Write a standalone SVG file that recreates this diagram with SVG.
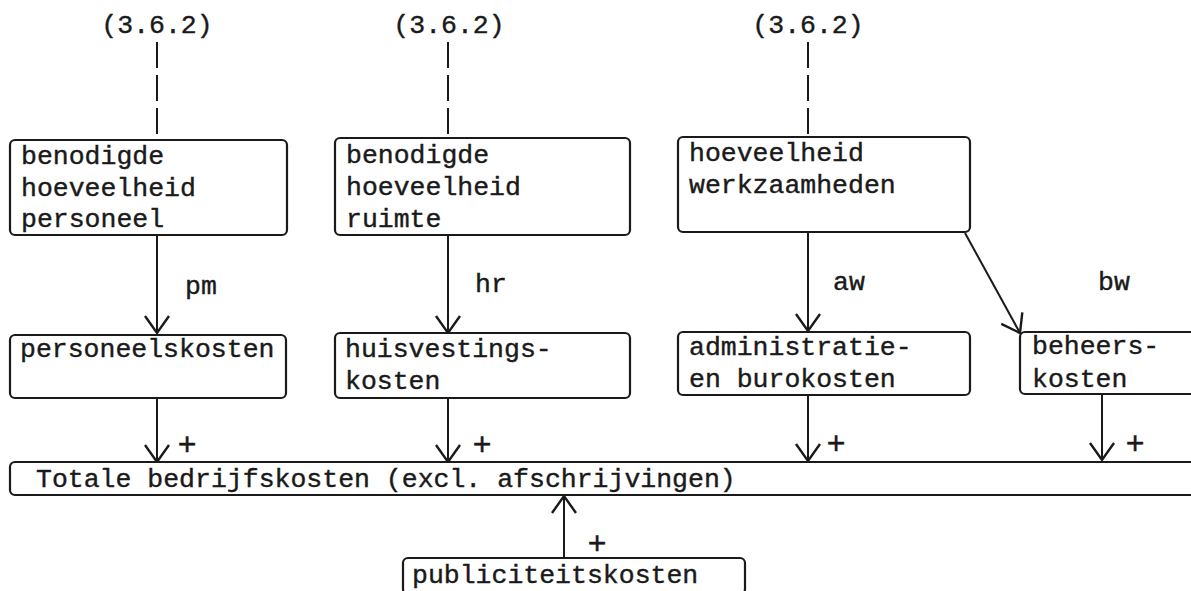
<svg xmlns="http://www.w3.org/2000/svg" width="1191" height="591" viewBox="0 0 1191 591">
<style>
  .box { fill: #ffffff; stroke: #1a1a1a; stroke-width: 2.2; }
  .t { font-family: "Liberation Mono", "Courier New", monospace; font-size: 26.5px; fill: #1a1a1a; stroke: #1a1a1a; stroke-width: 0.4; }
  .lbl { font-family: "Liberation Mono", "Courier New", monospace; font-size: 26.5px; fill: #1a1a1a; stroke: #1a1a1a; stroke-width: 0.4; }
  .plus { font-family: "Liberation Mono", "Courier New", monospace; font-size: 32px; fill: #1a1a1a; stroke: #1a1a1a; stroke-width: 0.4; }
  .ln { fill: none; stroke: #1a1a1a; stroke-width: 2; }
  .dash { fill: none; stroke: #1a1a1a; stroke-width: 2; stroke-dasharray: 26 7; }
</style>
<defs>
  <marker id="arr" markerUnits="userSpaceOnUse" markerWidth="40" markerHeight="40" viewBox="-20 -20 40 40" refX="0" refY="0" orient="auto" overflow="visible">
    <path d="M-17,-12 L0,0 L-17,12" fill="none" stroke="#1a1a1a" stroke-width="2.4"/>
  </marker>
</defs>
<rect width="1191" height="591" fill="#ffffff"/>

<g id="ref1"><text class="lbl" x="157" y="33" text-anchor="middle">(3.6.2)</text></g>
<g id="ref2"><text class="lbl" x="449" y="33" text-anchor="middle">(3.6.2)</text></g>
<g id="ref3"><text class="lbl" x="808" y="33" text-anchor="middle">(3.6.2)</text></g>

<g id="connectors">
  <line class="dash" x1="157" y1="42" x2="157" y2="140"/>
  <line class="dash" x1="448" y1="42" x2="448" y2="138"/>
  <line class="dash" x1="808" y1="42" x2="808" y2="137"/>

  <line class="ln" x1="157" y1="235" x2="157" y2="333" marker-end="url(#arr)"/>
  <line class="ln" x1="448" y1="235" x2="448" y2="333" marker-end="url(#arr)"/>
  <line class="ln" x1="808" y1="232" x2="808" y2="331" marker-end="url(#arr)"/>
  <line class="ln" x1="965" y1="233" x2="1020" y2="333" marker-end="url(#arr)"/>

  <line class="ln" x1="157" y1="398" x2="157" y2="462" marker-end="url(#arr)"/>
  <line class="ln" x1="448" y1="398" x2="448" y2="462" marker-end="url(#arr)"/>
  <line class="ln" x1="808" y1="395" x2="808" y2="461" marker-end="url(#arr)"/>
  <line class="ln" x1="1102" y1="394" x2="1102" y2="460" marker-end="url(#arr)"/>

  <line class="ln" x1="564" y1="558" x2="564" y2="496" marker-end="url(#arr)"/>

  <text class="lbl" x="185" y="294">pm</text>
  <text class="lbl" x="475" y="292">hr</text>
  <text class="lbl" x="833" y="290">aw</text>
  <text class="lbl" x="1098" y="290">bw</text>

  <text class="plus" x="187" y="455" text-anchor="middle">+</text>
  <text class="plus" x="482" y="455" text-anchor="middle">+</text>
  <text class="plus" x="836" y="454" text-anchor="middle">+</text>
  <text class="plus" x="1135" y="454" text-anchor="middle">+</text>
  <text class="plus" x="597" y="554" text-anchor="middle">+</text>
</g>

<g id="personeel">
  <rect class="box" x="10" y="140" width="277" height="95" rx="5"/>
  <text class="t" x="21" y="164">benodigde</text>
  <text class="t" x="21" y="196">hoeveelheid</text>
  <text class="t" x="21" y="227">personeel</text>
</g>
<g id="ruimte">
  <rect class="box" x="335" y="138" width="295" height="97" rx="5"/>
  <text class="t" x="346" y="163">benodigde</text>
  <text class="t" x="346" y="195">hoeveelheid</text>
  <text class="t" x="346" y="227">ruimte</text>
</g>
<g id="werkzaamheden">
  <rect class="box" x="678" y="137" width="292" height="95" rx="5"/>
  <text class="t" x="689" y="161">hoeveelheid</text>
  <text class="t" x="689" y="193">werkzaamheden</text>
</g>

<g id="personeelskosten">
  <rect class="box" x="10" y="335" width="276" height="63" rx="5"/>
  <text class="t" x="20" y="357">personeelskosten</text>
</g>
<g id="huisvestingskosten">
  <rect class="box" x="335" y="333" width="295" height="65" rx="5"/>
  <text class="t" x="345" y="357">huisvestings-</text>
  <text class="t" x="345" y="389">kosten</text>
</g>
<g id="administratiekosten">
  <rect class="box" x="678" y="332" width="292" height="63" rx="5"/>
  <text class="t" x="689" y="355">administratie-</text>
  <text class="t" x="689" y="387">en burokosten</text>
</g>
<g id="beheerskosten">
  <rect class="box" x="1020" y="332" width="200" height="62" rx="5"/>
  <text class="t" x="1032" y="354">beheers-</text>
  <text class="t" x="1032" y="387">kosten</text>
</g>

<g id="totale">
  <rect class="box" x="10" y="462" width="1210" height="33" rx="5"/>
  <text class="t" x="36" y="487">Totale bedrijfskosten (excl. afschrijvingen)</text>
</g>

<g id="publiciteitskosten">
  <rect class="box" x="403" y="558" width="342" height="36" rx="5"/>
  <text class="t" x="412" y="583">publiciteitskosten</text>
</g>
</svg>
